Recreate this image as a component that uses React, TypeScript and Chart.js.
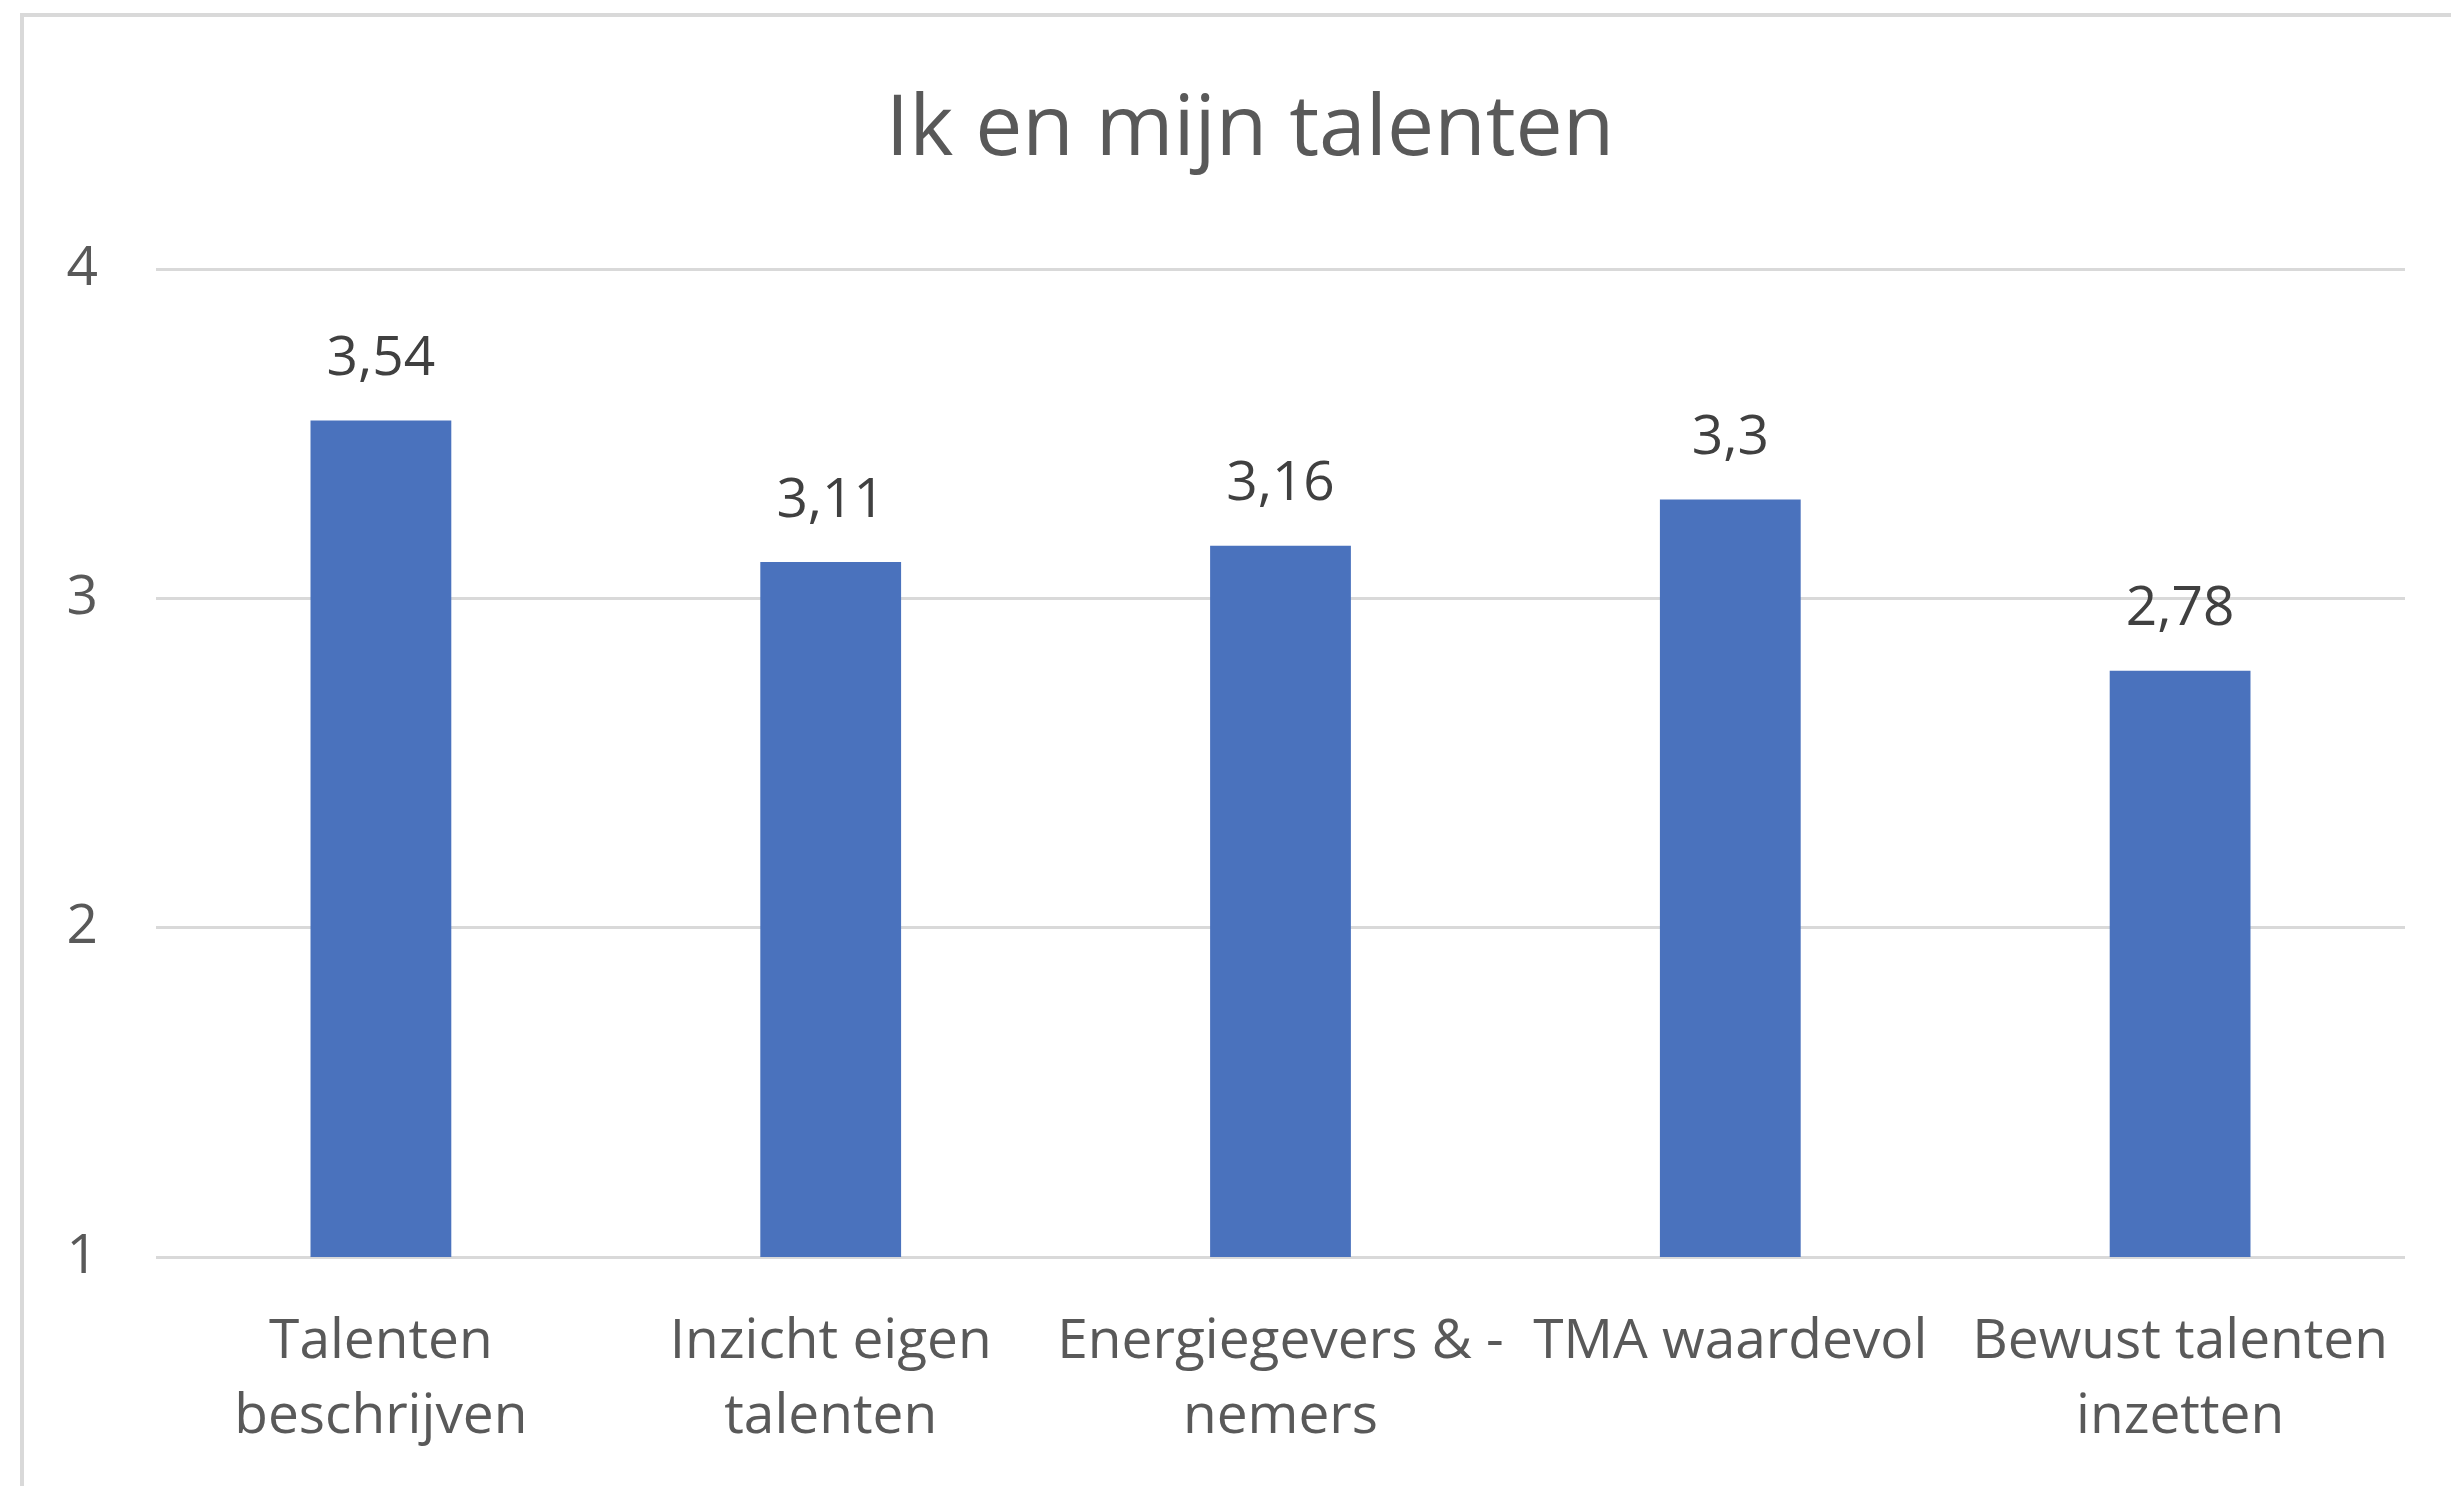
import React, { useEffect, useRef } from "react";
import { Chart, registerables } from "chart.js";

Chart.register(...registerables);

const titleText = "Ik en mijn talenten";
const categories: string[][] = [
  ["Talenten", "beschrijven"],
  ["Inzicht eigen", "talenten"],
  ["Energiegevers & -", "nemers"],
  ["TMA waardevol"],
  ["Bewust talenten", "inzetten"],
];
const values: number[] = [3.54, 3.11, 3.16, 3.3, 2.78];
const yTicks: number[] = [1, 2, 3, 4];

const W = 2451;
const H = 1486;
const FONT = '"Open Sans", "Noto Sans", sans-serif';

const fmt = (v: number) => String(v).replace(".", ",");

const framePlugin = {
  id: "frame",
  afterLayout(chart: any) {
    // the original chart extends past the right edge of the picture,
    // so its title is centred a little to the right of the visible middle
    if (chart.titleBlock) chart.titleBlock.left += 95;
  },
  beforeDraw(chart: any) {
    const ctx = chart.ctx;
    ctx.save();
    ctx.fillStyle = "#ffffff";
    ctx.fillRect(0, 0, chart.width, chart.height);
    ctx.fillStyle = "#d9d9d9";
    ctx.fillRect(20, 13, chart.width - 20, 4);
    ctx.fillRect(20, 13, 4, chart.height - 13);
    ctx.restore();
  },
};

const valueLabelPlugin = {
  id: "valueLabels",
  afterDatasetsDraw(chart: any) {
    const ctx = chart.ctx;
    const meta = chart.getDatasetMeta(0);
    const data = chart.data.datasets[0].data as number[];
    ctx.save();
    ctx.font = `55px ${FONT}`;
    ctx.fillStyle = "#404040";
    ctx.textAlign = "center";
    ctx.textBaseline = "middle";
    meta.data.forEach((el: any, i: number) => {
      ctx.fillText(fmt(data[i]), el.x, el.y - 61);
    });
    ctx.restore();
  },
};

export default function App() {
  const ref = useRef<HTMLCanvasElement | null>(null);

  useEffect(() => {
    if (!ref.current) return;
    const chart = new Chart(ref.current, {
      type: "bar",
      data: {
        labels: categories,
        datasets: [
          {
            data: values,
            backgroundColor: "#4A72BD",
            barPercentage: 0.313,
            categoryPercentage: 1,
          },
        ],
      },
      plugins: [framePlugin, valueLabelPlugin],
      options: {
        responsive: false,
        animation: false,
        devicePixelRatio: 1,
        layout: { padding: { left: 0, right: 46, top: 0, bottom: 0 } },
        plugins: {
          legend: { display: false },
          tooltip: { enabled: false },
          title: {
            display: true,
            text: titleText,
            color: "#595959",
            font: { family: FONT, size: 84, weight: "normal", lineHeight: 1 },
            padding: { top: 89, bottom: 96 },
          },
        },
        scales: {
          x: {
            grid: { display: false },
            border: { display: false },
            ticks: {
              color: "#595959",
              font: { family: FONT, size: 55, lineHeight: 1.364 },
              padding: 40,
              maxRotation: 0,
              autoSkip: false,
            },
            afterFit: (s: any) => {
              s.height = H - 1257;
            },
          },
          y: {
            min: yTicks[0],
            max: yTicks[yTicks.length - 1],
            grid: { color: "#d9d9d9", lineWidth: 3, drawTicks: false },
            border: { display: false },
            ticks: {
              stepSize: 1,
              color: "#595959",
              font: { family: FONT, size: 55 },
              padding: 58,
              callback: (v: any) => String(v),
            },
            afterFit: (s: any) => {
              s.width = 156;
            },
          },
        },
      },
    });
    return () => chart.destroy();
  }, []);

  return (
    <div style={{ position: "absolute", left: 0, top: 0, width: W, height: H }}>
      <canvas ref={ref} width={W} height={H} style={{ width: W, height: H }} />
    </div>
  );
}
